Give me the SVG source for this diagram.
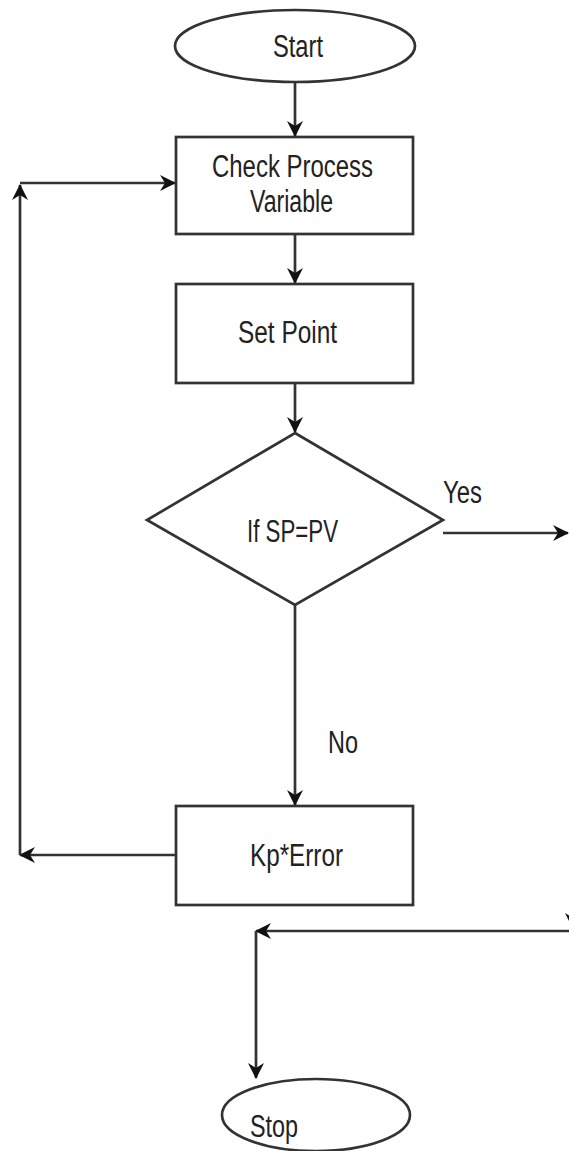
<svg xmlns="http://www.w3.org/2000/svg" width="569" height="1151" viewBox="0 0 569 1151">
<style>
.shape{fill:#fff;stroke:#333;stroke-width:2.7}
.edge{fill:none;stroke:#333;stroke-width:2.7}
.lbl{font-family:"Liberation Sans Narrow","Liberation Sans",Arial,sans-serif;font-size:31px;fill:#222}
</style>
<defs>
<marker id="arr" viewBox="0 0 16 16" refX="15" refY="8" markerWidth="16" markerHeight="16" markerUnits="userSpaceOnUse" orient="auto">
<path d="M0,0 L16,8 L0,16 L5,8 z" fill="#111"/>
</marker>
</defs>
<rect width="569" height="1151" fill="#fff"/>
<g id="connectors">
<line class="edge" x1="295" y1="82" x2="295" y2="136" marker-end="url(#arr)"/>
<line class="edge" x1="295" y1="234" x2="295" y2="283" marker-end="url(#arr)"/>
<line class="edge" x1="295" y1="383" x2="295" y2="432" marker-end="url(#arr)"/>
<line class="edge" x1="443" y1="533" x2="568" y2="533" marker-end="url(#arr)"/>
<line class="edge" x1="295" y1="605" x2="295" y2="805" marker-end="url(#arr)"/>
<line class="edge" x1="176" y1="855" x2="20" y2="855" marker-end="url(#arr)"/>
<line class="edge" x1="20" y1="855" x2="20" y2="185" marker-end="url(#arr)"/>
<line class="edge" x1="20" y1="183" x2="175" y2="183" marker-end="url(#arr)"/>
<line class="edge" x1="573" y1="900" x2="573" y2="928" marker-end="url(#arr)"/>
<line class="edge" x1="569" y1="931" x2="256" y2="931" marker-end="url(#arr)"/>
<line class="edge" x1="256" y1="931" x2="256" y2="1078" marker-end="url(#arr)"/>
</g>
<g id="start">
<ellipse class="shape" cx="295" cy="46" rx="120" ry="36"/>
<text class="lbl" x="273" y="57" textLength="50" lengthAdjust="spacingAndGlyphs">Start</text>
</g>
<g id="check">
<rect class="shape" x="176" y="137" width="237" height="97"/>
<text class="lbl" x="212" y="177" textLength="161" lengthAdjust="spacingAndGlyphs">Check Process</text>
<text class="lbl" x="250" y="212" textLength="83" lengthAdjust="spacingAndGlyphs">Variable</text>
</g>
<g id="setpoint">
<rect class="shape" x="176" y="284" width="237" height="99"/>
<text class="lbl" x="238" y="343" textLength="99" lengthAdjust="spacingAndGlyphs">Set Point</text>
</g>
<g id="decision">
<polygon class="shape" points="295,433 443,520 295,605 147,520"/>
<text class="lbl" x="247" y="542" textLength="91" lengthAdjust="spacingAndGlyphs">If SP=PV</text>
</g>
<g id="edge-labels">
<text class="lbl" x="443" y="503" textLength="39" lengthAdjust="spacingAndGlyphs">Yes</text>
<text class="lbl" x="328" y="753" textLength="30" lengthAdjust="spacingAndGlyphs">No</text>
</g>
<g id="kperror">
<rect class="shape" x="176" y="806" width="237" height="99"/>
<text class="lbl" x="250" y="866" textLength="93" lengthAdjust="spacingAndGlyphs">Kp*Error</text>
</g>
<g id="stop">
<ellipse class="shape" cx="316" cy="1115" rx="94" ry="36"/>
<text class="lbl" x="250" y="1137" textLength="48" lengthAdjust="spacingAndGlyphs">Stop</text>
</g>
</svg>
